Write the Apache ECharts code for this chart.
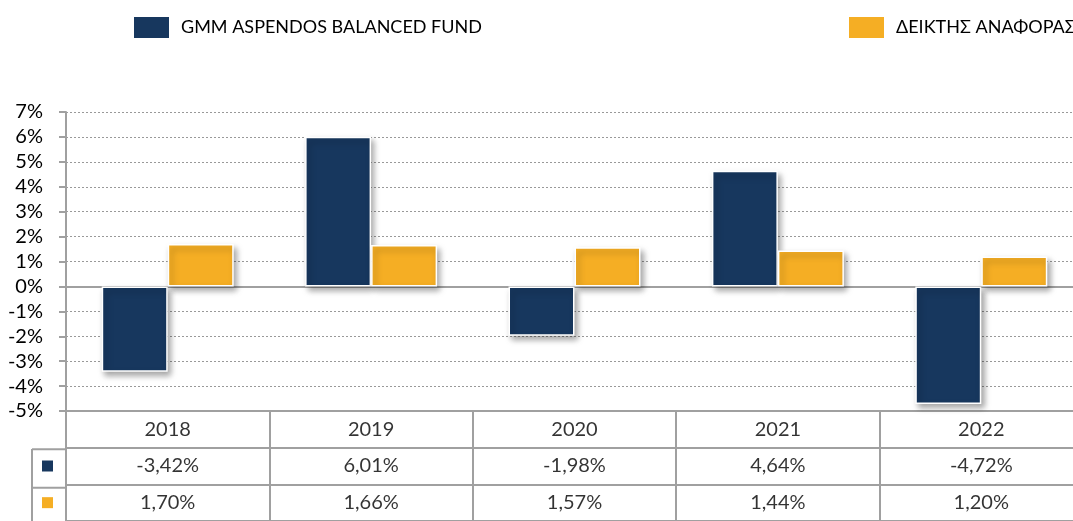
<!DOCTYPE html>
<html>
<head>
<meta charset="utf-8">
<style>
  html, body { margin: 0; padding: 0; background: #fff; overflow: hidden; }
  #chart { width: 1090px; height: 521px; }
</style>
<script src="https://cdn.jsdelivr.net/npm/echarts@6/dist/echarts.min.js"></script>
</head>
<body>
<div id="chart"></div>
<script>
// -- Data --
const years = ['2018', '2019', '2020', '2021', '2022'];
const fundName = 'GMM ASPENDOS BALANCED FUND';
const benchName = 'ΔΕΙΚΤΗΣ ΑΝΑΦΟΡΑΣ';
const fundValues = [-3.42, 6.01, -1.98, 4.64, -4.72];
const benchValues = [1.70, 1.66, 1.57, 1.44, 1.20];
const yTicks = [-5, -4, -3, -2, -1, 0, 1, 2, 3, 4, 5, 6, 7];

// -- Style --
const NAVY = '#17375e';
const ORANGE = '#f5ae24';
const LINE = '#a0a0a0';
const FONT = 'Lato, "Open Sans", sans-serif';

const pct = v => v.toFixed(2).replace('.', ',') + '%';

// table cells: row 0 = year header, row 1 = fund, row 2 = benchmark
const tableCells = [];
years.forEach((y, i) => {
  tableCells.push([i, 0, y]);
  tableCells.push([i, 1, pct(fundValues[i])]);
  tableCells.push([i, 2, pct(benchValues[i])]);
});

const barStyle = color => ({
  color,
  borderColor: '#fff',
  borderWidth: 1.5,
  shadowBlur: 6,
  shadowOffsetX: 3,
  shadowOffsetY: 4,
  shadowColor: 'rgba(0,0,0,0.35)'
});

const legendBase = {
  top: 15, padding: 0, icon: 'rect',
  itemWidth: 37, itemHeight: 23,
  textStyle: { fontSize: 18, color: '#000', padding: [0, 0, 0, 6] }
};

const chart = echarts.init(document.getElementById('chart'), null, { renderer: 'canvas' });

chart.setOption({
  animation: false,
  textStyle: { fontFamily: FONT },
  legend: [
    Object.assign({ data: [fundName], left: 132 }, legendBase),
    Object.assign({ data: [benchName], left: 847 }, legendBase)
  ],
  grid: [
    { left: 66, top: 112, width: 1017, height: 299 },
    { left: 66, top: 411, width: 1017, height: 115 }
  ],
  xAxis: [
    {
      type: 'category', gridIndex: 0, data: years,
      axisLabel: { show: false }, axisTick: { show: false },
      axisLine: { onZero: true, lineStyle: { color: LINE, width: 2 } }
    },
    {
      type: 'category', gridIndex: 1, data: years, position: 'top',
      axisLabel: { show: false }, axisTick: { show: false },
      axisLine: { lineStyle: { color: LINE, width: 2 } },
      splitLine: { show: true, lineStyle: { color: LINE, width: 2 } }
    }
  ],
  yAxis: [
    {
      type: 'value', gridIndex: 0,
      min: yTicks[0], max: yTicks[yTicks.length - 1], interval: 1,
      axisLine: { show: true, lineStyle: { color: LINE, width: 2 } },
      axisTick: { show: true, length: 7, lineStyle: { color: LINE, width: 2 } },
      axisLabel: { formatter: v => v + '%', fontSize: 20, color: '#000', margin: 23 },
      splitLine: { show: true, lineStyle: { color: '#999', type: [2, 2], width: 1 } }
    },
    {
      type: 'category', gridIndex: 1, inverse: true,
      data: ['head', 'fund', 'bench'],
      axisLine: { show: true, lineStyle: { color: LINE, width: 2 } },
      axisTick: { show: false },
      splitLine: { show: true, lineStyle: { color: LINE, width: 2 } },
      axisLabel: {
        margin: 13,
        formatter: v => v === 'fund' ? '{a|}' : v === 'bench' ? '{b|}' : '',
        rich: {
          a: { backgroundColor: NAVY, width: 11, height: 11 },
          b: { backgroundColor: ORANGE, width: 11, height: 11 }
        }
      }
    }
  ],
  series: [
    {
      name: fundName, type: 'bar', xAxisIndex: 0, yAxisIndex: 0,
      data: fundValues, barWidth: 66, barGap: '0%',
      itemStyle: barStyle(NAVY)
    },
    {
      name: benchName, type: 'bar', xAxisIndex: 0, yAxisIndex: 0,
      data: benchValues, barWidth: 66, barGap: '0%',
      itemStyle: barStyle(ORANGE)
    },
    {
      type: 'scatter', xAxisIndex: 1, yAxisIndex: 1,
      symbolSize: 0, silent: true,
      data: tableCells,
      label: {
        show: true, position: 'inside',
        formatter: p => p.data[2],
        fontSize: 20, color: '#000', fontFamily: FONT
      }
    }
  ],
  // left-hand key column of the table
  graphic: [
    { type: 'line', shape: { x1: 32, y1: 449, x2: 32, y2: 530 }, style: { stroke: LINE, lineWidth: 2 } },
    { type: 'line', shape: { x1: 32, y1: 449.3, x2: 66, y2: 449.3 }, style: { stroke: LINE, lineWidth: 2 } },
    { type: 'line', shape: { x1: 32, y1: 487.7, x2: 66, y2: 487.7 }, style: { stroke: LINE, lineWidth: 2 } }
  ]
});

window.addEventListener('resize', () => chart.resize());
</script>
</body>
</html>
